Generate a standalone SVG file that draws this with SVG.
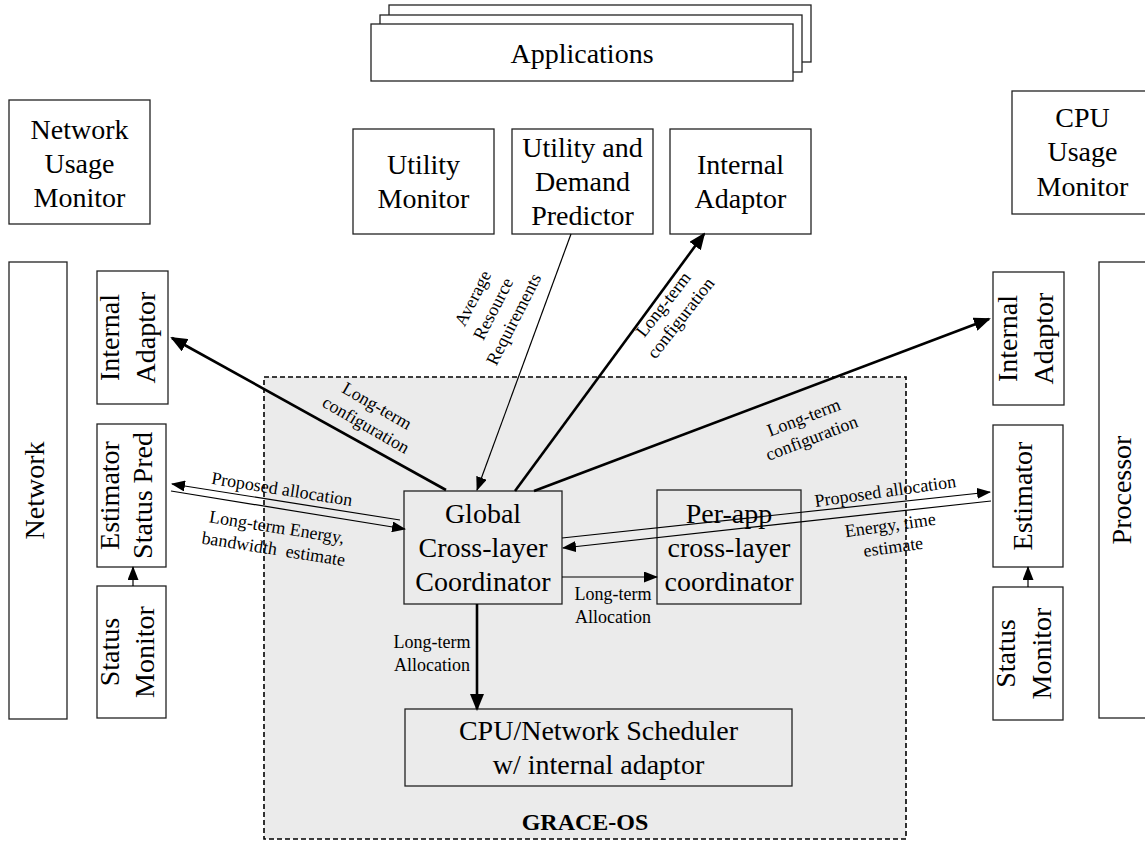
<svg xmlns="http://www.w3.org/2000/svg" width="1145" height="843" viewBox="0 0 1145 843">
  <style>
    text { font-family: "Liberation Serif", "Times New Roman", serif; fill: #000; }
    .box { fill: #fff; stroke: #222; stroke-width: 1.3; }
    .inbox { fill: #ebebeb; stroke: #222; stroke-width: 1.3; }
    .big { font-size: 28px; text-anchor: middle; }
    .lbl { font-size: 18px; text-anchor: middle; }
    .thick { fill: none; stroke: #000; stroke-width: 2.6; marker-end: url(#headBold); }
    .thin { fill: none; stroke: #000; stroke-width: 1.2; marker-end: url(#head); }
  </style>
  <defs>
    <marker id="head" markerUnits="userSpaceOnUse" markerWidth="14" markerHeight="11" refX="13" refY="5.5" orient="auto">
      <path d="M0,0 L14,5.5 L0,11 z" fill="#000"/>
    </marker>
    <marker id="headBold" markerUnits="userSpaceOnUse" markerWidth="17" markerHeight="14" refX="15" refY="7" orient="auto">
      <path d="M0,0 L17,7 L0,14 z" fill="#000"/>
    </marker>
  </defs>

  <rect width="1145" height="843" fill="#fff"/>

  <!-- OS boundary -->
  <g id="grace-os">
    <rect x="264" y="377" width="642" height="462" fill="#ebebeb" stroke="#000" stroke-width="1.6" stroke-dasharray="5,3"/>
    <text x="585" y="830" font-size="24" font-weight="bold" text-anchor="middle">GRACE-OS</text>
  </g>

  <!-- application stack -->
  <g id="applications">
    <rect class="box" x="389" y="5" width="422" height="57"/>
    <rect class="box" x="380" y="15" width="422" height="57"/>
    <rect class="box" x="371" y="24" width="422" height="57"/>
    <text class="big" x="582" y="63">Applications</text>
  </g>

  <g id="network-usage-monitor">
    <rect class="box" x="9" y="100" width="141" height="124"/>
    <text class="big"><tspan x="79.5" y="139">Network</tspan><tspan x="79.5" y="173">Usage</tspan><tspan x="79.5" y="207">Monitor</tspan></text>
  </g>

  <g id="cpu-usage-monitor">
    <rect class="box" x="1012" y="91" width="141" height="123"/>
    <text class="big"><tspan x="1082.5" y="127">CPU</tspan><tspan x="1082.5" y="161">Usage</tspan><tspan x="1082.5" y="196">Monitor</tspan></text>
  </g>

  <g id="utility-monitor">
    <rect class="box" x="353" y="129" width="141" height="105"/>
    <text class="big"><tspan x="423.5" y="174">Utility</tspan><tspan x="423.5" y="208">Monitor</tspan></text>
  </g>

  <g id="demand-predictor">
    <rect class="box" x="512" y="129" width="141" height="105"/>
    <text class="big"><tspan x="582.5" y="157">Utility and</tspan><tspan x="582.5" y="191">Demand</tspan><tspan x="582.5" y="225">Predictor</tspan></text>
  </g>

  <g id="app-internal-adaptor">
    <rect class="box" x="670" y="129" width="141" height="105"/>
    <text class="big"><tspan x="740.5" y="174">Internal</tspan><tspan x="740.5" y="208">Adaptor</tspan></text>
  </g>

  <!-- network side -->
  <g id="network">
    <rect class="box" x="9" y="262" width="58" height="457"/>
    <text class="big" transform="translate(43.5,490.5) rotate(-90)" x="0" y="0">Network</text>
  </g>

  <g id="net-internal-adaptor">
    <rect class="box" x="97" y="271" width="71" height="133"/>
    <text class="big" transform="translate(0,337.5) rotate(-90)"><tspan x="0" y="118.5">Internal</tspan><tspan x="0" y="155">Adaptor</tspan></text>
  </g>

  <g id="net-estimator">
    <rect class="box" x="97" y="424" width="69" height="143"/>
    <text class="big" transform="translate(0,495.5) rotate(-90)"><tspan x="0" y="118.5">Estimator</tspan><tspan x="0" y="152">Status Pred</tspan></text>
  </g>

  <g id="net-status-monitor">
    <rect class="box" x="97" y="586" width="69" height="132"/>
    <text class="big" transform="translate(0,652) rotate(-90)"><tspan x="0" y="118.5">Status</tspan><tspan x="0" y="153.5">Monitor</tspan></text>
  </g>

  <!-- processor side -->
  <g id="processor">
    <rect class="box" x="1099" y="262" width="58" height="456"/>
    <text class="big" transform="translate(1131,490) rotate(-90)" x="0" y="0">Processor</text>
  </g>

  <g id="cpu-internal-adaptor">
    <rect class="box" x="993" y="272" width="71" height="133"/>
    <text class="big" transform="translate(0,338.5) rotate(-90)"><tspan x="0" y="1016.5">Internal</tspan><tspan x="0" y="1053">Adaptor</tspan></text>
  </g>

  <g id="cpu-estimator">
    <rect class="box" x="993" y="425" width="70" height="142"/>
    <text class="big" transform="translate(1031.5,496) rotate(-90)" x="0" y="0">Estimator</text>
  </g>

  <g id="cpu-status-monitor">
    <rect class="box" x="993" y="587" width="70" height="133"/>
    <text class="big" transform="translate(0,653.5) rotate(-90)"><tspan x="0" y="1014.5">Status</tspan><tspan x="0" y="1050.5">Monitor</tspan></text>
  </g>

  <!-- inside the OS -->
  <g id="global-coordinator">
    <rect class="inbox" x="404" y="491" width="158" height="113"/>
    <text class="big"><tspan x="483" y="523">Global</tspan><tspan x="483" y="557">Cross-layer</tspan><tspan x="483" y="591">Coordinator</tspan></text>
  </g>

  <g id="per-app-coordinator">
    <rect class="inbox" x="657" y="490" width="144" height="114"/>
    <text class="big"><tspan x="729" y="523">Per-app</tspan><tspan x="729" y="557">cross-layer</tspan><tspan x="729" y="591">coordinator</tspan></text>
  </g>

  <g id="scheduler">
    <rect class="inbox" x="405" y="709" width="387" height="77"/>
    <text class="big"><tspan x="598.5" y="740">CPU/Network Scheduler</tspan><tspan x="598.5" y="774">w/ internal adaptor</tspan></text>
  </g>

  <!-- connectors -->
  <g id="connectors">
    <path class="thick" d="M446,490 L172,338"/>
    <path class="thin" d="M571,234 L477,490"/>
    <path class="thick" d="M515,491 L704,234"/>
    <path class="thick" d="M534,491 L989,319"/>
    <path class="thin" d="M400,520 L172,484"/>
    <path class="thin" d="M171,491 L405,529"/>
    <path class="thin" d="M562,538 L990,492"/>
    <path class="thin" d="M991,501 L563,548"/>
    <path class="thin" d="M562,577 L657,577"/>
    <path class="thick" d="M477,604 L477,709"/>
    <path class="thin" d="M133,586 L133,567"/>
    <path class="thin" d="M1028,587 L1028,567"/>

    <text class="lbl" transform="translate(374,411) rotate(30)"><tspan x="0" y="0">Long-term</tspan><tspan x="0" y="22">configuration</tspan></text>
    <text class="lbl" transform="translate(478,301) rotate(-63)"><tspan x="0" y="0">Average</tspan><tspan x="0" y="23">Resource</tspan><tspan x="0" y="46">Requirements</tspan></text>
    <text class="lbl" transform="translate(668,308) rotate(-52)"><tspan x="0" y="0">Long-term</tspan><tspan x="0" y="22">configuration</tspan></text>
    <text class="lbl" transform="translate(806,423) rotate(-21)"><tspan x="0" y="0">Long-term</tspan><tspan x="0" y="22">configuration</tspan></text>
    <text class="lbl" transform="translate(281,495) rotate(9)" x="0" y="0">Proposed allocation</text>
    <text class="lbl" transform="translate(276,533) rotate(9)"><tspan x="0" y="0">Long-term Energy,</tspan><tspan x="0" y="22">bandwidth&#160; estimate</tspan></text>
    <text class="lbl" transform="translate(886,497) rotate(-8)" x="0" y="0">Proposed allocation</text>
    <text class="lbl" transform="translate(891,531) rotate(-8)"><tspan x="0" y="0">Energy, time</tspan><tspan x="0" y="22">estimate</tspan></text>
    <text class="lbl"><tspan x="613" y="600">Long-term</tspan><tspan x="613" y="623">Allocation</tspan></text>
    <text class="lbl"><tspan x="432" y="648">Long-term</tspan><tspan x="432" y="671">Allocation</tspan></text>
  </g>
</svg>
